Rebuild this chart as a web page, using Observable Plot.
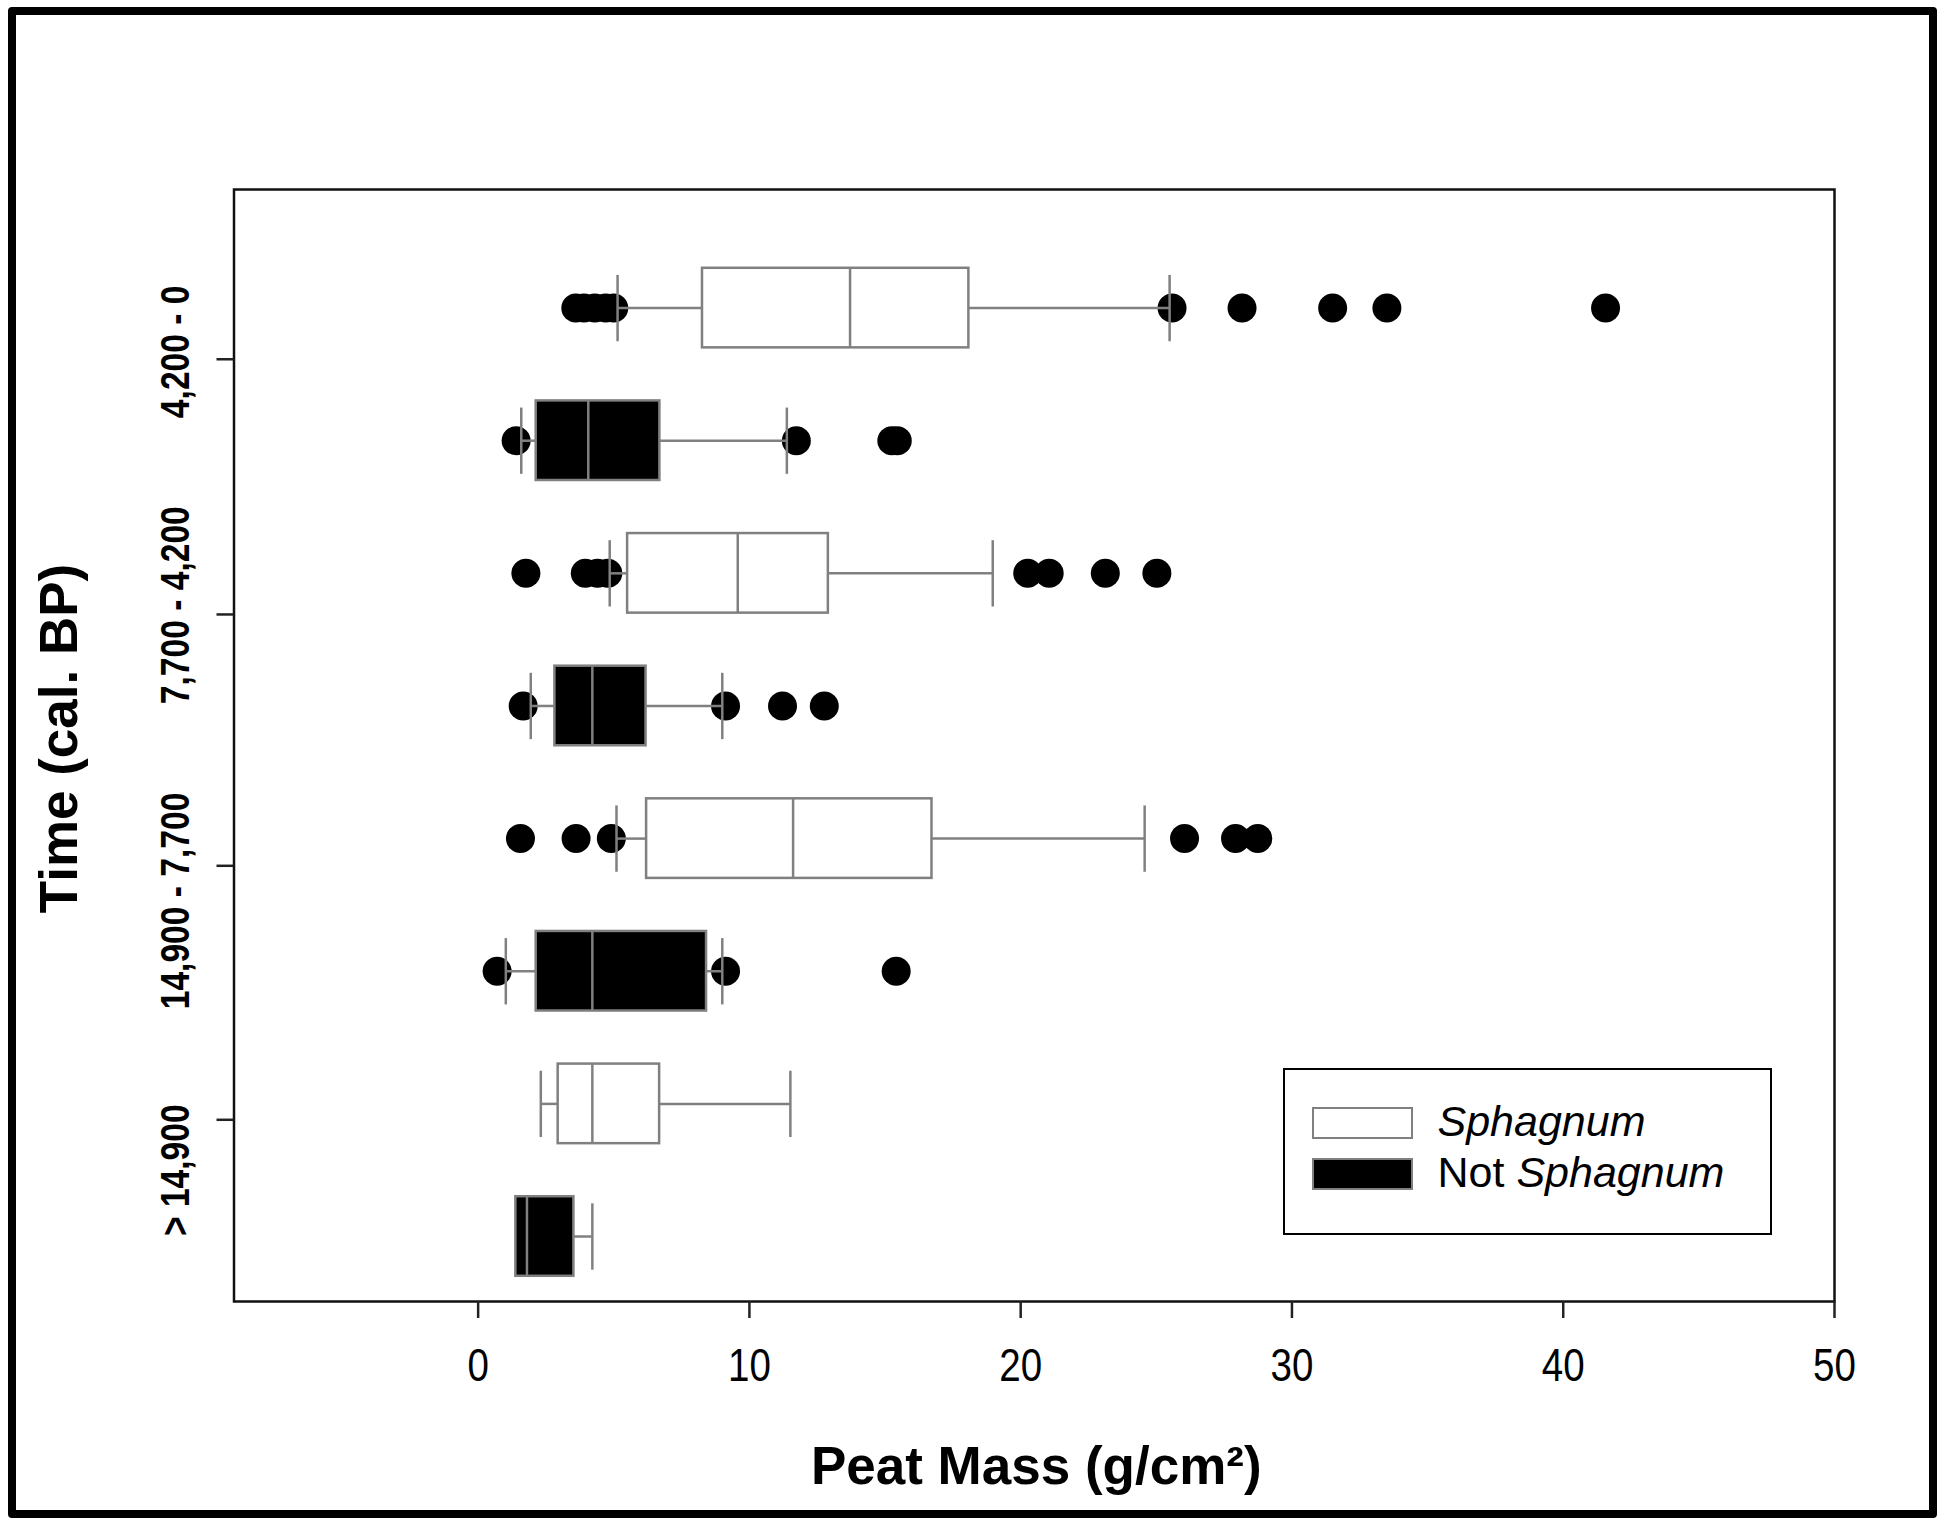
<!DOCTYPE html>
<html>
<head>
<meta charset="utf-8">
<script src="https://cdn.jsdelivr.net/npm/d3@7"></script>
<script src="https://cdn.jsdelivr.net/npm/@observablehq/plot@0.6"></script>
<style>
  html, body { margin: 0; padding: 0; background: #fff; }
  #wrap { position: relative; width: 1950px; height: 1525px; overflow: hidden; background: #fff; }
  #chart svg { display: block; }
  #border { position: absolute; left: 8px; top: 7px; width: 1929px; height: 1511px; box-sizing: border-box;
            border: 8.5px solid #000; border-radius: 4px; pointer-events: none; }
  #legend { position: absolute; left: 1283px; top: 1068px; width: 489px; height: 167px; box-sizing: border-box;
            border: 2.5px solid #000; background: #fff; font-family: "Liberation Sans", Arial, sans-serif; }
  .sw { position: absolute; width: 101px; height: 32px; box-sizing: border-box; border: 2.5px solid #808080; }
  .lt { position: absolute; font-size: 43px; line-height: 43px; color: #000; white-space: nowrap; }
</style>
</head>
<body>
<div id="wrap">
  <div id="chart"></div>
  <div id="legend"></div>
  <div id="border"></div>
</div>
<script>
// ---- data ----
const periods = ["4,200 - 0", "7,700 - 4,200", "14,900 - 7,700", "> 14,900"];
const peatTypes = ["Sphagnum", "Not Sphagnum"];
// rows: for each period, Sphagnum then Not Sphagnum
const whiskerLow  = [5.14, 1.59, 4.85, 1.94, 5.10, 1.02, 2.31, 1.39];
const q1          = [8.27, 2.14, 5.51, 2.83, 6.21, 2.14, 2.95, 1.39];
const median      = [13.71, 4.06, 9.57, 4.21, 11.61, 4.21, 4.21, 1.80];
const q3          = [18.09, 6.70, 12.91, 6.19, 16.73, 8.42, 6.69, 3.53];
const whiskerHigh = [25.49, 11.38, 18.97, 9.00, 24.57, 9.00, 11.51, 4.21];
const outliers = [
  [3.6, 3.9, 4.3, 4.7, 5.0, 25.58, 28.16, 31.5, 33.5, 41.56],
  [1.40, 11.73, 15.25, 15.45],
  [1.76, 3.95, 4.4, 4.78, 20.26, 21.05, 23.12, 25.02],
  [1.66, 9.12, 11.22, 12.76],
  [1.56, 3.61, 4.91, 26.04, 27.92, 28.74],
  [0.70, 9.12, 15.41],
  [],
  []
];
const xTicks = [0, 10, 20, 30, 40, 50];
const yTickPos = [0.386, 2.31, 4.205, 6.12];     // tick marks on the time axis (row units)
const yLabelPos = [0.33, 2.24, 4.47, 6.50];      // where the period labels sit (row units)
const xTitle = "Peat Mass (g/cm²)";
const yTitle = "Time (cal. BP)";

// ---- build tables ----
const rows = whiskerLow.map((lo, i) => ({
  i, lo, q1: q1[i], med: median[i], q3: q3[i], hi: whiskerHigh[i],
  type: peatTypes[i % 2], period: periods[Math.floor(i / 2)]
}));
const outlierPts = outliers.flatMap((vals, i) => vals.map(v => ({i, v})));
const labelRows = periods.map((p, k) => ({p, y: yLabelPos[k]}));

const gray = "#808080";
const boxHalf = 0.30, capHalf = 0.25;
const sans = "'Liberation Sans', Arial, Helvetica, sans-serif";

const plot = Plot.plot({
  width: 1950,
  height: 1525,
  marginLeft: 233.5,
  marginRight: 116,
  marginTop: 189,
  marginBottom: 224,
  style: {background: "white", color: "black", fontFamily: sans},
  x: {domain: [-9, 50]},
  y: {domain: [-0.894, 7.49], reverse: true},
  marks: [
    Plot.dot(outlierPts, {x: "v", y: "i", r: 14.5, fill: "black", stroke: "none"}),
    Plot.ruleY(rows, {y: "i", x1: "lo", x2: "q1", stroke: gray, strokeWidth: 2.5}),
    Plot.ruleY(rows, {y: "i", x1: "q3", x2: "hi", stroke: gray, strokeWidth: 2.5}),
    Plot.link(rows.filter(d => d.lo < d.q1), {x1: "lo", x2: "lo", y1: d => d.i - capHalf, y2: d => d.i + capHalf, stroke: gray, strokeWidth: 2.5}),
    Plot.link(rows, {x1: "hi", x2: "hi", y1: d => d.i - capHalf, y2: d => d.i + capHalf, stroke: gray, strokeWidth: 2.5}),
    Plot.rect(rows, {x1: "q1", x2: "q3", y1: d => d.i - boxHalf, y2: d => d.i + boxHalf,
      fill: d => d.type === "Sphagnum" ? "white" : "black", stroke: gray, strokeWidth: 2.5}),
    Plot.link(rows, {x1: "med", x2: "med", y1: d => d.i - boxHalf, y2: d => d.i + boxHalf, stroke: gray, strokeWidth: 2.5}),
    Plot.frame({stroke: "#111", strokeWidth: 2.5}),
    Plot.axisX({ticks: xTicks, tickSize: 17, tickPadding: 29, fontSize: 47, fontFamily: sans,
      strokeWidth: 2.5, stroke: "#222", label: null, tickFormat: d => String(d)}),
    Plot.axisY({ticks: yTickPos, tickSize: 17, strokeWidth: 2.5, stroke: "#222", label: null, tickFormat: () => ""}),
    Plot.text(labelRows, {y: "y", text: "p", frameAnchor: "left", textAnchor: "middle", dx: -57.5, rotate: -90,
      fontSize: 40, fontWeight: "bold", fontFamily: sans, fill: "black"}),
    Plot.text([yTitle], {text: d => d, frameAnchor: "left", textAnchor: "middle", dx: -173.5, dy: -7, rotate: -90,
      fontSize: 53, fontWeight: "bold", fontFamily: sans, fill: "black"}),
    Plot.text([xTitle], {text: d => d, frameAnchor: "bottom", lineAnchor: "bottom", dy: 182, dx: 2,
      fontSize: 53, fontWeight: "bold", fontFamily: sans, fill: "black"})
  ]
});
document.getElementById("chart").appendChild(plot);

// condense the tick-label glyphs to mimic the narrow face of the original
d3.select(plot).selectAll("text").each(function() {
  const t = this.textContent;
  const tr = this.getAttribute("transform") || "";
  if (periods.includes(t)) {
    this.setAttribute("transform", tr + " scale(0.84,1)");
  } else if (xTicks.map(String).includes(t)) {
    this.setAttribute("transform", tr + " scale(0.82,1)");
  }
});

// ---- legend ----
const legend = document.getElementById("legend");
const L = 1283, T = 1068, B = 2.5;
const legendItems = [
  {fill: "white", parts: [["", false], [peatTypes[0], true]], swTop: 1107, txtTop: 1100.6},
  {fill: "black", parts: [["Not ", false], ["Sphagnum", true]], swTop: 1158, txtTop: 1151.6}
];
legendItems.forEach(it => {
  const sw = document.createElement("div");
  sw.className = "sw";
  sw.style.left = (1312 - L - B) + "px";
  sw.style.top = (it.swTop - T - B) + "px";
  sw.style.background = it.fill;
  legend.appendChild(sw);
  const t = document.createElement("div");
  t.className = "lt";
  t.style.left = (1438 - L - B) + "px";
  t.style.top = (it.txtTop - T - B) + "px";
  it.parts.forEach(([s, ital]) => {
    if (!s) return;
    const sp = document.createElement("span");
    sp.textContent = s;
    if (ital) sp.style.fontStyle = "italic";
    t.appendChild(sp);
  });
  legend.appendChild(t);
});
</script>
</body>
</html>
